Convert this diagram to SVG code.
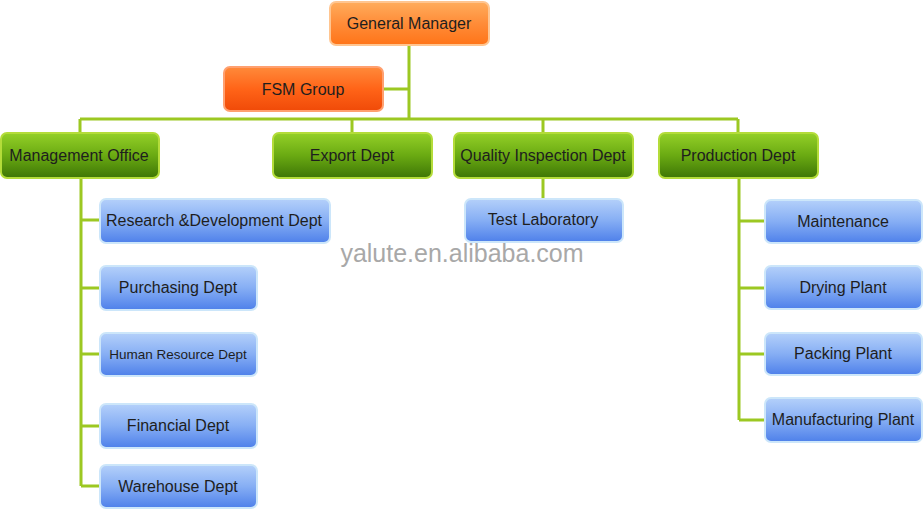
<svg xmlns="http://www.w3.org/2000/svg" width="924" height="510" viewBox="0 0 924 510">
<defs>
<linearGradient id="gOrange" x1="0" y1="0" x2="0" y2="1">
<stop offset="0" stop-color="#ffac5c"/><stop offset="0.5" stop-color="#ff8c38"/><stop offset="1" stop-color="#ff7418"/>
</linearGradient>
<linearGradient id="gRed" x1="0" y1="0" x2="0" y2="1">
<stop offset="0" stop-color="#ff8a3a"/><stop offset="0.5" stop-color="#ff6418"/><stop offset="1" stop-color="#f04a08"/>
</linearGradient>
<linearGradient id="gGreen" x1="0" y1="0" x2="0" y2="1">
<stop offset="0" stop-color="#94d028"/><stop offset="0.5" stop-color="#6aaa12"/><stop offset="1" stop-color="#3e7606"/>
</linearGradient>
<linearGradient id="gBlue" x1="0" y1="0" x2="0" y2="1">
<stop offset="0" stop-color="#b4d0fa"/><stop offset="0.5" stop-color="#86aef4"/><stop offset="1" stop-color="#4e80ea"/>
</linearGradient>
<style>
.orange{fill:url(#gOrange);stroke:#ffc590;stroke-width:2}
.red{fill:url(#gRed);stroke:#ffa070;stroke-width:2}
.green{fill:url(#gGreen);stroke:#b4dc3a;stroke-width:2}
.blue{fill:url(#gBlue);stroke:#cce6fa;stroke-width:2}
.t{font-family:"Liberation Sans",Arial,sans-serif;font-size:16px;fill:#1e1e1e;text-anchor:middle;dominant-baseline:central}
.s{font-size:13.5px}
.c{fill:none;stroke:#9cc822;stroke-width:3}
.wm{font-family:"Liberation Sans",Arial,sans-serif;font-size:25px;fill:#a8a8a8;text-anchor:middle}
</style>
</defs>
<g id="connectors">
<path class="c" d="M409 46V119M384 89H409M80 119H738M80 119V133M352 119V133M543 119V133M738 119V133"/>
<path class="c" d="M81 178V486M81 220H100M81 288H99M81 354H99M81 426H99M81 486H99"/>
<path class="c" d="M543 178V199"/>
<path class="c" d="M739 178V420M739 221H764M739 288H764M739 354H764M739 420H764"/>
</g>
<g id="general-manager"><rect class="orange" x="330" y="2" width="159" height="43" rx="6"/><text class="t" x="409" y="23">General Manager</text></g>
<g id="fsm-group"><rect class="red" x="224" y="67" width="159" height="44" rx="6"/><text class="t" x="303" y="89">FSM Group</text></g>
<g id="management-office"><rect class="green" x="1" y="133" width="158" height="45" rx="6"/><text class="t" x="79" y="155">Management Office</text></g>
<g id="export-dept"><rect class="green" x="273" y="133" width="159" height="45" rx="6"/><text class="t" x="352" y="155">Export Dept</text></g>
<g id="quality-inspection-dept"><rect class="green" x="454" y="133" width="179" height="45" rx="6"/><text class="t" x="543" y="155">Quality Inspection Dept</text></g>
<g id="production-dept"><rect class="green" x="659" y="133" width="159" height="45" rx="6"/><text class="t" x="738" y="155">Production Dept</text></g>
<g id="rd-dept"><rect class="blue" x="100" y="199" width="230" height="44" rx="6"/><text class="t" x="214" y="220">Research &amp;Development Dept</text></g>
<g id="purchasing-dept"><rect class="blue" x="100" y="266" width="157" height="44" rx="6"/><text class="t" x="178" y="287">Purchasing Dept</text></g>
<g id="human-resource-dept"><rect class="blue" x="100" y="333" width="157" height="43" rx="6"/><text class="t s" x="178" y="354">Human Resource Dept</text></g>
<g id="financial-dept"><rect class="blue" x="100" y="404" width="157" height="44" rx="6"/><text class="t" x="178" y="425">Financial Dept</text></g>
<g id="warehouse-dept"><rect class="blue" x="100" y="465" width="157" height="43" rx="6"/><text class="t" x="178" y="486">Warehouse Dept</text></g>
<g id="test-laboratory"><rect class="blue" x="465" y="199" width="158" height="43" rx="6"/><text class="t" x="543" y="219">Test Laboratory</text></g>
<g id="maintenance"><rect class="blue" x="765" y="200" width="157" height="43" rx="6"/><text class="t" x="843" y="221">Maintenance</text></g>
<g id="drying-plant"><rect class="blue" x="765" y="266" width="157" height="43" rx="6"/><text class="t" x="843" y="287">Drying Plant</text></g>
<g id="packing-plant"><rect class="blue" x="765" y="333" width="157" height="42" rx="6"/><text class="t" x="843" y="353">Packing Plant</text></g>
<g id="manufacturing-plant"><rect class="blue" x="765" y="398" width="157" height="44" rx="6"/><text class="t" x="843" y="419">Manufacturing Plant</text></g>
<text class="wm" x="462" y="262">yalute.en.alibaba.com</text>
</svg>
